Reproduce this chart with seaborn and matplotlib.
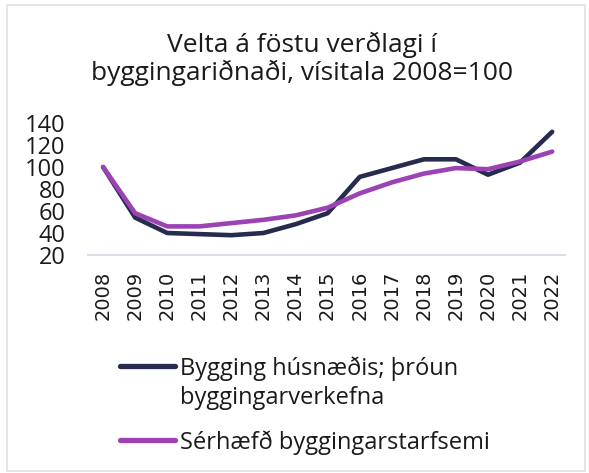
import pandas as pd
import numpy as np
import seaborn as sns
import matplotlib.pyplot as plt
from matplotlib.patches import Rectangle

# Data (index, 2008 = 100)
years = list(range(2008, 2023))
husnaedi = [100, 54, 40, 39, 38, 40, 48, 58, 91, 99, 107, 107, 93, 104, 132]
serhaefd = [100, 58, 46, 46, 49, 52, 56, 63, 76, 86, 94, 99, 98, 105, 114]

label_a = "Bygging húsnæðis; þróun\nbyggingarverkefna"
label_b = "Sérhæfð byggingarstarfsemi"
title = "Velta á föstu verðlagi í\nbyggingariðnaði, vísitala 2008=100"

df = pd.DataFrame({
    "Ár": years * 2,
    "Vísitala": husnaedi + serhaefd,
    "Flokkur": [label_a] * len(years) + [label_b] * len(years),
})

sns.set_theme(style="white")
plt.rcParams["font.family"] = ["Open Sans", "DejaVu Sans"]

fig = plt.figure(figsize=(5.89, 4.73), dpi=100)
ax = fig.add_axes([88 / 589, 1 - 255 / 473, (565 - 88) / 589, (255 - 123) / 473])

sns.lineplot(data=df, x="Ár", y="Vísitala", hue="Flokkur",
             palette=["#272b4d", "#9c42b4"], linewidth=3.3, ax=ax,
             legend=False, solid_capstyle="round")

ax.set_xlim(2008 - 0.47, 2022 + 0.4)
ax.set_ylim(20, 140)
ax.set_xticks(years)
ax.set_xticklabels([str(y) for y in years], rotation=90,
                   family=["DejaVu Sans"], fontsize=14, color="#1a1a1a")
ax.set_yticks(range(20, 141, 20))
ax.tick_params(axis="y", labelsize=17, pad=16, length=0, labelcolor="#1a1a1a")
ax.tick_params(axis="x", pad=11, length=0)
ax.set_xlabel("")
ax.set_ylabel("")
for s in ["left", "right", "top"]:
    ax.spines[s].set_visible(False)
ax.spines["bottom"].set_color("#dcdcee")
ax.spines["bottom"].set_linewidth(1.5)

fig.text(0.513, 0.876, title, ha="center", va="center", fontsize=19,
         color="#1a1a1a", linespacing=1.07)

handles = [plt.Line2D([], [], color="#272b4d", lw=3.8, solid_capstyle="round"),
           plt.Line2D([], [], color="#9c42b4", lw=3.8, solid_capstyle="round")]
leg = fig.legend(handles, [label_a, label_b], loc="upper left",
                 bbox_to_anchor=(120 / 589, 1 - 356 / 473), frameon=False,
                 fontsize=17, handlelength=2.35, handletextpad=0.2,
                 handleheight=1.05, labelspacing=0.85, borderaxespad=0,
                 borderpad=0)
for t in leg.get_texts():
    t.set_color("#1a1a1a")
    t.set_linespacing(1.3)
# put each handle next to the first line of its label
for row in leg._legend_handle_box.get_children()[0].get_children():
    row.align = "top"

# light frame around the whole picture
fig.patches.append(Rectangle((7 / 589, 2 / 473), 578 / 589, 466 / 473,
                             transform=fig.transFigure, fill=False,
                             edgecolor="#e2e2e2", linewidth=1.2))

fig.savefig("out.png", dpi=100)
